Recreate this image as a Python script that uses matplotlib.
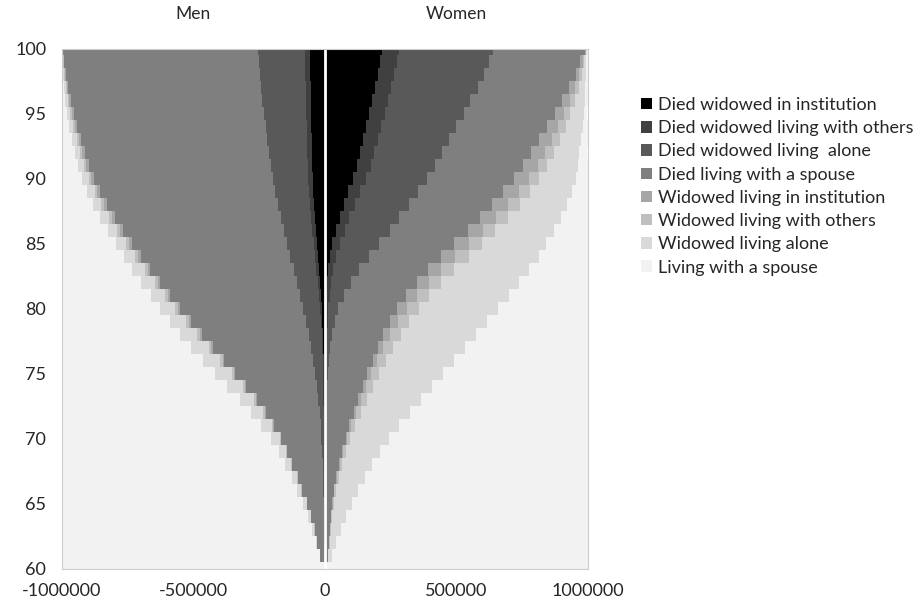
import matplotlib
matplotlib.use('Agg')
import matplotlib.pyplot as plt
import numpy as np

plt.rcParams['font.family'] = ['Lato', 'DejaVu Sans']

ages = np.arange(60, 101)

# women, in thousands of persons, age 60..100
w_died_inst   = [0, 0,0,0,0,0,0,0,0,0,0,0,0, 1,1,1,2,2,3,4,
                 5,7,10,14,20,30,43,57,74,91,108,124,135,146,157,169,180,192,203,211,218]
w_died_oth    = [0, 0,0,0,0,0,0,0,1,1,1,1,2,2,3,3,4,5,6,8,
                 10,12,15,20,25,29,34,38,42,45,49,52,55,57,58,60,61,62,63,64,65]
w_died_alone  = [0, 0,0,0,0,1,1,1,2,2,3,3,4,5,7,9,11,14,19,28,
                 38,55,76,97,125,148,171,190,207,220,232,245,258,272,286,300,314,328,340,349,357]
w_died_spouse = [0, 13,17,21,25,29,35,43,52,63,76,90,105,120,135,150,166,181,196,210,
                 224,237,250,262,274,285,296,306,315,323,330,335,339,342,344,346,347,348,349,349,350]
w_wid_inst    = [0, 0,0,0,1,1,1,2,2,3,4,5,7,9,11,14,17,21,26,31,
                 36,41,45,50,54,56,58,60,59,59,57,54,51,48,44,36,30,22,14,8,3]
w_wid_oth     = [0, 1,2,3,4,5,7,9,10,12,14,17,20,23,26,29,32,36,39,42,
                 45,47,48,49,50,49,48,47,45,43,40,37,34,31,28,23,20,15,10,6,2]
w_wid_alone   = [0, 15,25,39,52,69,83,99,113,130,147,167,187,207,226,244,260,275,287,295,
                 301,302,295,285,267,245,222,201,180,160,140,118,97,81,65,51,37,24,14,8,2]
w_spouse      = [1000, 971,956,937,918,895,873,846,820,789,755,717,675,633,591,550,508,466,424,382,
                 341,299,261,223,185,158,128,101,78,59,44,35,29,23,18,14,11,9,7,5,3]

# men
m_died_inst   = [0, 0,0,0,0,0,0,0,0,0, 1,1,1,2,2,3,3,4,6,8,
                 10,13,17,21,25,29,33,36,40,43,45,47,48,49,50,51,52,53,54,54,55]
m_died_oth    = [0, 0,0,0,0,0,0,0, 1,1,1,1,2,2,3,3,4,5,5,6,
                 7,8,9,10,11,12,13,14,15,16,17,17,18,18,18,19,19,19,19,19,19]
m_died_alone  = [0, 0,1,1,2,3,4,5,6,8,10,13,16,20,24,29,35,41,48,55,
                 63,71,78,86,94,102,109,117,123,129,135,140,145,151,156,160,165,169,173,177,179]
m_died_spouse = [0, 17,26,37,49,64,82,96,117,132,153,177,205,233,269,305,340,374,407,438,
                 469,495,521,546,567,589,611,629,649,665,679,691,699,707,717,722,727,734,736,740,745]
m_wid_inst    = [0, 0,0,0,0,0,0,1,1,1,1,2,2,3,3,4,5,6,7,8,
                 8,9,10,10,11,11,12,12,12,12,12,12,11,10,9,8,7,5,4,2,1]
m_wid_oth     = [0, 0,0,1,1,1,2,2,3,3,4,5,6,7,8,9,10,10,11,11,
                 11,11,11,11,11,11,10,10,10,9,9,8,8,7,7,6,5,4,3,2,0]
m_wid_alone   = [0, 2,5,7,10,13,16,19,23,29,35,41,49,56,62,65,66,66,64,61,
                 58,54,50,47,43,40,37,34,31,29,26,24,21,19,16,13,10,7,4,2,1]
m_spouse      = [1000, 981,968,954,938,919,896,877,849,826,795,760,719,677,629,582,537,494,452,413,
                 374,339,304,269,238,206,175,148,120,97,77,61,50,39,27,21,15,9,7,4,0]

labels = ['Died widowed in institution', 'Died widowed living with others',
          'Died widowed living  alone', 'Died living with a spouse',
          'Widowed living in institution', 'Widowed living with others',
          'Widowed living alone', 'Living with a spouse']
colors = ['#000000', '#404040', '#595959', '#7f7f7f',
          '#a6a6a6', '#bfbfbf', '#d9d9d9', '#f2f2f2']

women = [w_died_inst, w_died_oth, w_died_alone, w_died_spouse,
         w_wid_inst, w_wid_oth, w_wid_alone, w_spouse]
men = [m_died_inst, m_died_oth, m_died_alone, m_died_spouse,
       m_wid_inst, m_wid_oth, m_wid_alone, m_spouse]

fig = plt.figure(figsize=(9.18, 6.04), dpi=100)
ax = fig.add_axes([0.067, 0.058, 0.573, 0.861])

handles = []
cum_w = np.zeros(len(ages))
cum_m = np.zeros(len(ages))
for wv, mv, col, lab in zip(women, men, colors, labels):
    wv = np.array(wv) * 1000.0
    mv = np.array(mv) * 1000.0
    h = ax.barh(ages, wv, left=cum_w, height=1.0, color=col, linewidth=0, label=lab)
    ax.barh(ages, -mv, left=-cum_m, height=1.0, color=col, linewidth=0)
    cum_w += wv
    cum_m += mv
    handles.append(h)

ax.axvline(0, color='white', lw=2)

ax.set_xlim(-1000000, 1000000)
ax.set_ylim(60, 100)
ax.set_xticks([-1000000, -500000, 0, 500000, 1000000])
ax.set_xticklabels(['-1000000', '-500000', '0', '500000', '1000000'])
ax.set_yticks(range(60, 101, 5))
ax.tick_params(length=0, labelsize=13, colors='#262626')
ax.tick_params(axis='x', pad=10)
ax.tick_params(axis='y', pad=11)
for s in ax.spines.values():
    s.set_color('#cccccc')
    s.set_linewidth(0.8)

fig.text(193 / 918, 1 - 14 / 604, 'Men', ha='center', va='center', fontsize=12.5, color='#262626')
fig.text(456 / 918, 1 - 14 / 604, 'Women', ha='center', va='center', fontsize=12.5, color='#262626')

fig.legend(handles, labels, loc='upper left', bbox_to_anchor=(641 / 918, 1 - 97 / 604),
           frameon=False, fontsize=13, handlelength=0.6, handleheight=0.6,
           handletextpad=0.35, labelspacing=0.4, borderaxespad=0, borderpad=0,
           labelcolor='#262626')

fig.savefig('out.png', dpi=100)
